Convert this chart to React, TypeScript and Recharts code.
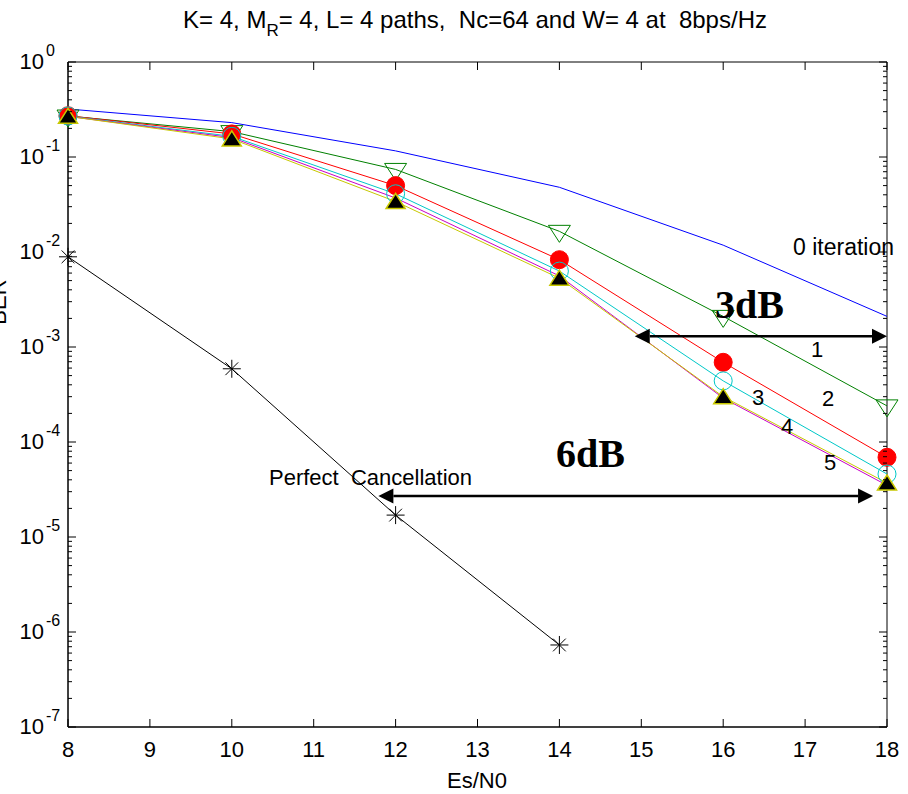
import React from "react";
import {
  LineChart,
  Line,
  XAxis,
  YAxis,
  ReferenceLine,
  ReferenceArea,
} from "recharts";

// values
const ES_N0 = [8, 10, 12, 14, 16, 18];
const BER_IT0 = [0.32, 0.23, 0.116, 0.048, 0.0118, 0.0021];
const BER_IT1 = [0.27, 0.185, 0.074, 0.0165, 0.0021, 0.00024];
const BER_IT2 = [0.272, 0.175, 0.05, 0.0083, 0.00069, 0.000069];
const BER_IT3 = [0.27, 0.165, 0.041, 0.0063, 0.00044, 0.000046];
const BER_IT4 = [0.268, 0.16, 0.037, 0.0056, 0.00029, 0.000035];
const BER_IT5 = [0.268, 0.155, 0.034, 0.0053, 0.0003, 0.000037];
const BER_PERFECT = [0.0089, 0.00059, 0.000017, 0.00000073];

const X_TICKS = [8, 9, 10, 11, 12, 13, 14, 15, 16, 17, 18];
const Y_MAJOR = [1e-7, 1e-6, 1e-5, 1e-4, 1e-3, 1e-2, 1e-1, 1];
const Y_MINOR_MULT = [2, 3, 4, 5, 6, 7, 8, 9];

// gap arrows (Es/N0 start/end, BER level)
const GAP_3DB_X = [14.92, 18];
const GAP_3DB_BER = 1.3e-3;
const GAP_6DB_X = [11.79, 17.83];
const GAP_6DB_BER = 2.7e-5;

const W = 908;
const H = 794;
const MARGIN = { top: 62, right: 21, left: 0, bottom: 0 };
const Y_AXIS_W = 68;
const X_AXIS_H = 67;
const PLOT_RIGHT = W - MARGIN.right;
const PLOT_TOP = MARGIN.top;
const TICK_GAP = 4;

const SANS = "'Liberation Sans', Arial, Helvetica, sans-serif";
const SERIF = "'Liberation Serif', 'Times New Roman', serif";

const yTicks: number[] = [];
Y_MAJOR.forEach((m, i) => {
  yTicks.push(m);
  if (i < Y_MAJOR.length - 1) Y_MINOR_MULT.forEach((k) => yTicks.push(m * k));
});

const data = ES_N0.map((x, i) => ({
  x,
  it0: BER_IT0[i],
  it1: BER_IT1[i],
  it2: BER_IT2[i],
  it3: BER_IT3[i],
  it4: BER_IT4[i],
  it5: BER_IT5[i],
  perfect: BER_PERFECT[i],
}));

const YTick = (props: any) => {
  const { x, y, payload } = props;
  const v = payload.value;
  const lg = Math.log10(v);
  const exp = Math.round(lg);
  const major = Math.abs(lg - exp) < 1e-6;
  const axisX = x + TICK_GAP;
  const len = major ? 8 : 4;
  return (
    <g>
      <line x1={axisX} x2={axisX + len} y1={y} y2={y} stroke="#000" />
      <line x1={PLOT_RIGHT} x2={PLOT_RIGHT - len} y1={y} y2={y} stroke="#000" />
      {major && (
        <text fontFamily={SANS} fill="#000">
          <tspan x={axisX - 24} y={y + 7} fontSize={22} textAnchor="end">
            10
          </tspan>
          <tspan x={axisX - 22} y={y - 6} fontSize={16}>
            {exp}
          </tspan>
        </text>
      )}
    </g>
  );
};

const XTick = (props: any) => {
  const { x, y, payload } = props;
  const axisY = y - TICK_GAP;
  return (
    <g>
      <line x1={x} x2={x} y1={axisY} y2={axisY - 8} stroke="#000" />
      <line x1={x} x2={x} y1={PLOT_TOP} y2={PLOT_TOP + 8} stroke="#000" />
      <text
        x={x}
        y={axisY + 30}
        textAnchor="middle"
        fontSize={22}
        fontFamily={SANS}
        fill="#000"
      >
        {payload.value}
      </text>
    </g>
  );
};

const dotOk = (p: any) => p.cx != null && p.cy != null && p.value != null;

const DownTri = (p: any) => {
  if (!dotOk(p)) return <g key={p.index} />;
  const { cx, cy } = p;
  return (
    <polygon
      key={p.index}
      points={`${cx - 11},${cy - 6} ${cx + 11},${cy - 6} ${cx},${cy + 11}`}
      fill="none"
      stroke="#008000"
      strokeWidth={1}
    />
  );
};

const RedDot = (p: any) =>
  dotOk(p) ? (
    <circle key={p.index} cx={p.cx} cy={p.cy} r={9} fill="#ff0000" stroke="#ff0000" />
  ) : (
    <g key={p.index} />
  );

const CyanRing = (p: any) =>
  dotOk(p) ? (
    <circle key={p.index} cx={p.cx} cy={p.cy} r={9} fill="none" stroke="#00c8c8" />
  ) : (
    <g key={p.index} />
  );

const UpTri = (p: any) => {
  if (!dotOk(p)) return <g key={p.index} />;
  const { cx, cy } = p;
  return (
    <polygon
      key={p.index}
      points={`${cx - 9.5},${cy + 7} ${cx + 9.5},${cy + 7} ${cx},${cy - 8}`}
      fill="#000"
      stroke="#c8c800"
      strokeWidth={1.5}
    />
  );
};

const Star = (p: any) => {
  if (!dotOk(p)) return <g key={p.index} />;
  const { cx, cy } = p;
  const r = 9;
  const d = r * 0.707;
  return (
    <g key={p.index} stroke="#000" strokeWidth={1}>
      <line x1={cx - r} x2={cx + r} y1={cy} y2={cy} />
      <line x1={cx} x2={cx} y1={cy - r} y2={cy + r} />
      <line x1={cx - d} x2={cx + d} y1={cy - d} y2={cy + d} />
      <line x1={cx - d} x2={cx + d} y1={cy + d} y2={cy - d} />
    </g>
  );
};

const Arrow = (p: any) => {
  const { x1, y1, x2, y2 } = p;
  const head = 15;
  const half = 7.5;
  const left = Math.min(x1, x2);
  const right = Math.max(x1, x2);
  const y = (y1 + y2) / 2;
  return (
    <g>
      <line x1={left + head} x2={right - head} y1={y} y2={y} stroke="#000" strokeWidth={2.5} />
      <polygon points={`${left},${y} ${left + head},${y - half} ${left + head},${y + half}`} fill="#000" />
      <polygon points={`${right},${y} ${right - head},${y - half} ${right - head},${y + half}`} fill="#000" />
    </g>
  );
};

export default function App() {
  return (
    <div style={{ position: "absolute", left: 0, top: 0, width: W, height: H, background: "#fff" }}>
      <LineChart width={W} height={H} data={data} margin={MARGIN}>
        <XAxis
          dataKey="x"
          type="number"
          domain={[8, 18]}
          ticks={X_TICKS}
          interval={0}
          height={X_AXIS_H}
          tickSize={0}
          tickMargin={TICK_GAP}
          tickLine={false}
          tick={<XTick />}
          axisLine={{ stroke: "#000" }}
        />
        <YAxis
          type="number"
          scale="log"
          domain={[1e-7, 1]}
          ticks={yTicks}
          interval={0}
          width={Y_AXIS_W}
          tickSize={0}
          tickMargin={TICK_GAP}
          tickLine={false}
          tick={<YTick />}
          axisLine={{ stroke: "#000" }}
        />
        <ReferenceArea x1={8} x2={18} y1={1e-7} y2={1} fill="none" stroke="#000" strokeWidth={1} fillOpacity={0} />
        <Line dataKey="it0" stroke="#0000ff" strokeWidth={1} dot={false} isAnimationActive={false} />
        <Line dataKey="it1" stroke="#008000" strokeWidth={1} dot={DownTri} isAnimationActive={false} />
        <Line dataKey="it2" stroke="#ff0000" strokeWidth={1} dot={RedDot} isAnimationActive={false} />
        <Line dataKey="it3" stroke="#00c8c8" strokeWidth={1} dot={CyanRing} isAnimationActive={false} />
        <Line dataKey="it4" stroke="#c800c8" strokeWidth={1} dot={false} isAnimationActive={false} />
        <Line dataKey="it5" stroke="#c8c800" strokeWidth={1} dot={UpTri} isAnimationActive={false} />
        <Line dataKey="perfect" stroke="#000" strokeWidth={1} dot={Star} isAnimationActive={false} />
        <ReferenceLine
          segment={[
            { x: GAP_3DB_X[0], y: GAP_3DB_BER },
            { x: GAP_3DB_X[1], y: GAP_3DB_BER },
          ]}
          shape={Arrow}
        />
        <ReferenceLine
          segment={[
            { x: GAP_6DB_X[0], y: GAP_6DB_BER },
            { x: GAP_6DB_X[1], y: GAP_6DB_BER },
          ]}
          shape={Arrow}
        />
      </LineChart>
      <svg
        width={W}
        height={H}
        style={{ position: "absolute", left: 0, top: 0, pointerEvents: "none" }}
      >
        <text x={475} y={28} textAnchor="middle" fontSize={24} fontFamily={SANS} style={{ whiteSpace: "pre" }}>
          <tspan>K= 4, M</tspan>
          <tspan fontSize={17} dy={8}>R</tspan>
          <tspan dy={-8}>{"= 4, L= 4 paths,  Nc=64 and W= 4 at  8bps/Hz"}</tspan>
        </text>
        <text x={477} y={788} textAnchor="middle" fontSize={22} fontFamily={SANS}>
          Es/N0
        </text>
        <text x={6} y={302} textAnchor="middle" fontSize={22} fontFamily={SANS} transform="rotate(-90 6 302)">
          BER
        </text>
        <text x={793} y={255} fontSize={23} fontFamily={SANS}>
          0 iteration
        </text>
        <text x={817} y={357} textAnchor="middle" fontSize={22} fontFamily={SANS}>1</text>
        <text x={828} y={406} textAnchor="middle" fontSize={22} fontFamily={SANS}>2</text>
        <text x={758} y={405} textAnchor="middle" fontSize={22} fontFamily={SANS}>3</text>
        <text x={787} y={434} textAnchor="middle" fontSize={22} fontFamily={SANS}>4</text>
        <text x={830} y={470} textAnchor="middle" fontSize={22} fontFamily={SANS}>5</text>
        <text x={715} y={318} fontSize={40} fontWeight="bold" fontFamily={SERIF}>3dB</text>
        <text x={556} y={467} fontSize={40} fontWeight="bold" fontFamily={SERIF}>6dB</text>
        <text x={269} y={485} fontSize={22} fontFamily={SANS} style={{ whiteSpace: "pre" }}>
          Perfect  Cancellation
        </text>
      </svg>
    </div>
  );
}
